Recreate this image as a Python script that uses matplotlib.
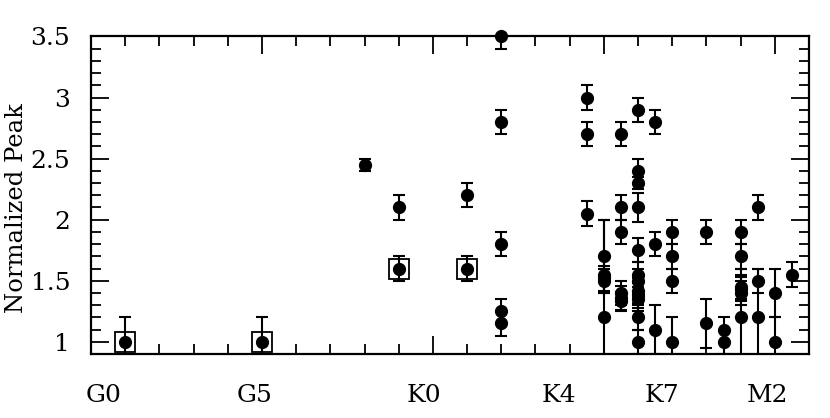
import matplotlib
matplotlib.use("Agg")
import matplotlib.pyplot as plt
from matplotlib.ticker import MultipleLocator, FuncFormatter
import matplotlib.transforms as mtransforms

# spectral type (numeric: G0=0, K0=10, M0=18), normalized peak, error
sptype = [1, 5, 8, 9, 9, 11, 11,
          12, 12, 12, 12, 12,
          14.5, 14.5, 14.5,
          15, 15, 15, 15, 15,
          15.5, 15.5, 15.5, 15.5, 15.5, 15.5,
          16, 16, 16, 16, 16, 16, 16, 16, 16, 16, 16, 16,
          16.5, 16.5, 16.5,
          17, 17, 17, 17,
          18, 18,
          18.5, 18.5,
          19, 19, 19, 19, 19, 19,
          19.5, 19.5, 19.5,
          20, 20,
          20.5]
peak = [1.0, 1.0, 2.45, 2.1, 1.6, 2.2, 1.6,
        3.5, 2.8, 1.8, 1.25, 1.15,
        3.0, 2.7, 2.05,
        1.7, 1.55, 1.52, 1.5, 1.2,
        2.7, 2.1, 1.9, 1.4, 1.36, 1.33,
        2.9, 2.4, 2.3, 2.1, 1.75, 1.55, 1.5, 1.42, 1.38, 1.35, 1.2, 1.0,
        2.8, 1.8, 1.1,
        1.9, 1.7, 1.5, 1.0,
        1.9, 1.15,
        1.1, 1.0,
        1.9, 1.7, 1.45, 1.43, 1.4, 1.2,
        2.1, 1.5, 1.2,
        1.4, 1.0,
        1.55]
err = [0.2, 0.2, 0.05, 0.1, 0.1, 0.1, 0.1,
       0.1, 0.1, 0.1, 0.1, 0.1,
       0.1, 0.1, 0.1,
       0.3, 0.05, 0.1, 0.1, 0.8,
       0.1, 0.1, 0.1, 0.1, 0.1, 0.08,
       0.1, 0.1, 0.05, 0.12, 0.1, 0.1, 0.1, 0.1, 0.1, 0.1, 0.1, 0.1,
       0.1, 0.1, 0.2,
       0.1, 0.1, 0.1, 0.2,
       0.1, 0.2,
       0.1, 0.1,
       0.1, 0.1, 0.1, 0.1, 0.1, 0.4,
       0.1, 0.1, 0.4,
       0.2, 0.2,
       0.1]

# boxed stars
box_x = [1, 5, 9, 11]
box_y = [1.0, 1.0, 1.6, 1.6]

type_labels = ["G0", "G5", "K0", "K4", "K7", "M2"]
label_pos = [0.38, 4.77, 9.74, 13.7, 16.7, 19.8]

plt.rcParams['font.family'] = 'DejaVu Serif'

fig = plt.figure(figsize=(8.3, 4.18), dpi=100)
ax = fig.add_axes([0.1096, 0.1531, 0.8651, 0.7596])

eb = ax.errorbar(sptype, peak, yerr=err, fmt='o', color='k', ms=8.5,
                 elinewidth=1.5, capsize=4, capthick=1.5)
eb[0].set_clip_on(False)
ax.plot(box_x, box_y, 's', mfc='none', mec='k', ms=14.5, mew=1.3)

ax.set_xlim(0, 21)
ax.set_ylim(0.9, 3.5)

ax.xaxis.set_major_locator(MultipleLocator(5))
ax.xaxis.set_minor_locator(MultipleLocator(1))
ax.yaxis.set_major_locator(MultipleLocator(0.5))
ax.yaxis.set_minor_locator(MultipleLocator(0.1))
ax.yaxis.set_major_formatter(FuncFormatter(lambda v, _: f"{v:g}"))
ax.set_xticklabels([])

ax.tick_params(which='both', direction='in', top=True, right=True, width=1.3)
ax.tick_params(which='major', length=13)
ax.tick_params(which='minor', length=7)
ax.tick_params(axis='y', which='major', labelsize=18, pad=15)
for s in ax.spines.values():
    s.set_linewidth(1.6)

trans = mtransforms.blended_transform_factory(ax.transData, ax.transAxes)
for p, l in zip(label_pos, type_labels):
    ax.text(p, -0.13, l, transform=trans, ha='center', va='center', fontsize=18)

ax.set_ylabel('Normalized Peak', fontsize=17.5)
ax.yaxis.set_label_coords(-0.087, 0.46)

fig.savefig('out.png', dpi=100)
